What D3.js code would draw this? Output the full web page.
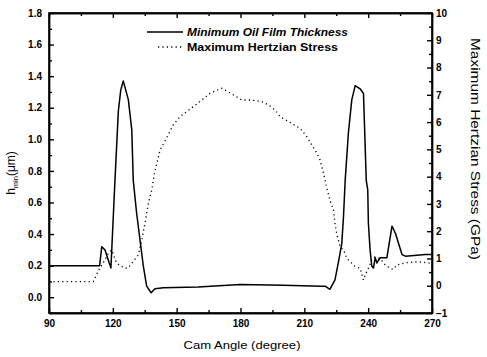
<!DOCTYPE html>
<html>
<head>
<meta charset="utf-8">
<script src="https://cdn.jsdelivr.net/npm/d3@7/dist/d3.min.js"></script>
<style>
    body { margin: 0; background: #fff; }
    svg { font-family: "Liberation Sans", Arial, sans-serif; }
    .axis path, .axis line { stroke: #000; stroke-width: 1.4; }
    .axis text { font-size: 10px; font-weight: bold; fill: #000; }
</style>
</head>
<body>
<div id="chart"></div>
<script>
// cam angle (degree) and min oil film thickness (um)
var filmAngle = [90, 113.8, 114.8, 116.3, 117.5, 119.1, 121, 122.6, 123.7, 124.9, 127.3, 128.9, 129.6,
    131.2, 132.8, 134.3, 135.9, 138, 139.8, 143.7, 160, 180, 200, 218, 219.8, 222, 224.4, 226,
    227.6, 228.4, 229.2, 230.7, 232.3, 233.9, 236.2, 237.8, 239.1, 239.8, 240.1, 240.9, 241.7,
    242.5, 243.3, 244.1, 245.6, 248.8, 251.2, 252.8, 255.9, 257.5, 266.9, 270];
var filmThickness = [0.2, 0.2, 0.32, 0.3, 0.25, 0.185, 0.74, 1.18, 1.31, 1.37, 1.25, 1.06, 0.74,
    0.53, 0.36, 0.2, 0.07, 0.028, 0.053, 0.06, 0.065, 0.08, 0.075, 0.07, 0.07, 0.05, 0.11, 0.22,
    0.34, 0.51, 0.74, 1.04, 1.25, 1.34, 1.32, 1.29, 0.74, 0.68, 0.47, 0.3, 0.196,
    0.185, 0.25, 0.217, 0.25, 0.25, 0.45, 0.405, 0.27, 0.26, 0.27, 0.27];

// cam angle (degree) and max hertzian stress (GPa)
var stressAngle = [90, 110.8, 113.2, 115.5, 117.9, 119.5, 121.8, 125.7, 127.3, 132, 133.6, 135.1,
    136.7, 138.3, 139.5, 142.2, 145.3, 148.3, 151.6, 160.1, 161.8, 165.7, 171.2, 175.1, 180.6,
    184.5, 190, 193.1, 196.3, 198.6, 208, 211.2, 215.9, 217.4, 219, 220.5, 222, 223.7, 224.4,
    225.2, 226.8, 228.4, 230, 233.9, 236.2, 237.8, 238.6, 240.1, 241.7, 243, 245.6, 248, 250.3,
    251.9, 253.4, 257.5, 263.8, 270];
var stressValue = [0.15, 0.15, 0.55, 0.84, 1.19, 1.31, 0.82, 0.64, 0.66, 1.13, 1.68, 2.29,
    3.02, 3.51, 4.1, 4.98, 5.42, 5.89, 6.2, 6.7, 6.81, 7.06, 7.24, 7.07, 6.81,
    6.81, 6.75, 6.63, 6.44, 6.2, 5.77, 5.46, 4.86, 4.61, 4.13, 3.6, 3.14, 2.78, 2.29,
    1.92, 1.43, 1.31, 1.0, 0.7, 0.64, 0.21, 0.39, 0.64, 0.95, 1.05, 1.0, 0.76, 0.64,
    0.6, 0.76, 0.84, 0.88, 0.82];

var xTicks = [90, 120, 150, 180, 210, 240, 270];
var xMinor = [105, 135, 165, 195, 225, 255];
var yLeftTicks = [0, 0.2, 0.4, 0.6, 0.8, 1.0, 1.2, 1.4, 1.6, 1.8];
var yLeftMinor = [-0.1, 0.1, 0.3, 0.5, 0.7, 0.9, 1.1, 1.3, 1.5, 1.7];
var yRightTicks = [-1, 0, 1, 2, 3, 4, 5, 6, 7, 8, 9, 10];
var yRightMinor = [-0.5, 0.5, 1.5, 2.5, 3.5, 4.5, 5.5, 6.5, 7.5, 8.5, 9.5];

var legendNames = ["Minimum Oil Film Thickness", "Maximum Hertzian Stress"];

var w = 487, h = 357,
    margin = {top: 13, right: 55, bottom: 44, left: 49},
    width = w - margin.left - margin.right,
    height = h - margin.top - margin.bottom;

var svg = d3.select("#chart").append("svg")
    .attr("width", w)
    .attr("height", h);

var g = svg.append("g").attr("transform", "translate(" + margin.left + "," + margin.top + ")");

var x = d3.scaleLinear().domain([90, 270]).range([0, width]);
var yL = d3.scaleLinear().domain([-0.1, 1.8]).range([height, 0]);
var yR = d3.scaleLinear().domain([-1, 10]).range([height, 0]);

// minor ticks first
g.append("g").attr("class", "axis").attr("transform", "translate(0," + height + ")")
    .call(d3.axisBottom(x).tickValues(xMinor).tickSizeInner(-3).tickSizeOuter(0).tickFormat(""));
g.append("g").attr("class", "axis")
    .call(d3.axisTop(x).tickValues(xMinor).tickSizeInner(-3).tickSizeOuter(0).tickFormat(""));
g.append("g").attr("class", "axis")
    .call(d3.axisLeft(yL).tickValues(yLeftMinor).tickSizeInner(-3).tickSizeOuter(0).tickFormat(""));
g.append("g").attr("class", "axis").attr("transform", "translate(" + width + ",0)")
    .call(d3.axisRight(yR).tickValues(yRightMinor).tickSizeInner(-3).tickSizeOuter(0).tickFormat(""));

// major ticks
g.append("g").attr("class", "axis").attr("transform", "translate(0," + height + ")")
    .call(d3.axisBottom(x).tickValues(xTicks).tickSizeInner(-5).tickSizeOuter(0).tickPadding(7));
g.append("g").attr("class", "axis")
    .call(d3.axisTop(x).tickValues(xTicks).tickSizeInner(-5).tickSizeOuter(0).tickFormat(""));
g.append("g").attr("class", "axis")
    .call(d3.axisLeft(yL).tickValues(yLeftTicks).tickSizeInner(-5).tickSizeOuter(0).tickPadding(7)
        .tickFormat(d3.format(".1f")));
g.append("g").attr("class", "axis").attr("transform", "translate(" + width + ",0)")
    .call(d3.axisRight(yR).tickValues(yRightTicks).tickSizeInner(-5).tickSizeOuter(0).tickPadding(4));

// frame
g.append("rect")
    .attr("width", width)
    .attr("height", height)
    .style("fill", "none")
    .style("stroke", "#000")
    .style("stroke-width", 1.6);

var filmData = filmAngle.map(function (d, i) { return [d, filmThickness[i]]; });
var stressData = stressAngle.map(function (d, i) { return [d, stressValue[i]]; });

var filmLine = d3.line()
    .x(function (d) { return x(d[0]); })
    .y(function (d) { return yL(d[1]); });
var stressLine = d3.line()
    .x(function (d) { return x(d[0]); })
    .y(function (d) { return yR(d[1]); });

g.append("path")
    .datum(stressData)
    .attr("d", stressLine)
    .style("fill", "none")
    .style("stroke", "#000")
    .style("stroke-width", 1.3)
    .style("stroke-dasharray", "1.2,3.2");

g.append("path")
    .datum(filmData)
    .attr("d", filmLine)
    .style("fill", "none")
    .style("stroke", "#000")
    .style("stroke-width", 1.5)
    .style("stroke-linejoin", "round");

// legend
var legend = svg.append("g");
legend.append("line")
    .attr("x1", 147).attr("x2", 183).attr("y1", 32).attr("y2", 32)
    .style("stroke", "#000").style("stroke-width", 1.3);
legend.append("line")
    .attr("x1", 158).attr("x2", 182).attr("y1", 47).attr("y2", 47)
    .style("stroke", "#000").style("stroke-width", 1.3).style("stroke-dasharray", "1.2,3.2");
legend.append("text")
    .attr("x", 187).attr("y", 36)
    .attr("textLength", 161).attr("lengthAdjust", "spacingAndGlyphs")
    .style("font-size", "11.5px").style("font-style", "italic").style("font-weight", "bold")
    .text(legendNames[0]);
legend.append("text")
    .attr("x", 187).attr("y", 51)
    .attr("textLength", 151).attr("lengthAdjust", "spacingAndGlyphs")
    .style("font-size", "11.5px").style("font-weight", "bold")
    .text(legendNames[1]);

// axis titles
svg.append("text")
    .attr("x", 242).attr("y", 349)
    .attr("text-anchor", "middle")
    .attr("textLength", 117).attr("lengthAdjust", "spacingAndGlyphs")
    .style("font-size", "11.5px")
    .text("Cam Angle (degree)");

var leftTitle = svg.append("text")
    .attr("transform", "translate(15,173) rotate(-90)")
    .attr("text-anchor", "middle")
    .style("font-size", "12px");
leftTitle.append("tspan").text("h");
leftTitle.append("tspan").attr("dy", 3).style("font-size", "7.5px").text("min");
leftTitle.append("tspan").attr("dy", -3).text("(\u03bcm)");

svg.append("text")
    .attr("transform", "translate(471,149) rotate(90)")
    .attr("text-anchor", "middle")
    .attr("textLength", 222).attr("lengthAdjust", "spacingAndGlyphs")
    .style("font-size", "12px")
    .text("Maximum Hertzian Stress (GPa)");
</script>
</body>
</html>
